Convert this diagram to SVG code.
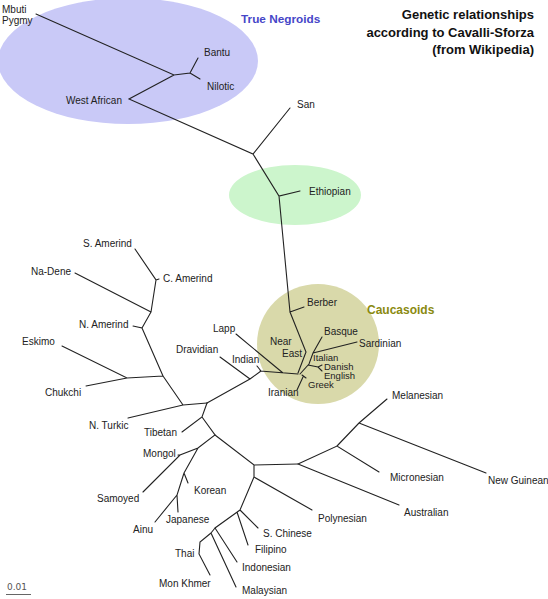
<svg xmlns="http://www.w3.org/2000/svg" width="548" height="599" viewBox="0 0 548 599">
<style>
.t{font-family:"Liberation Sans",Arial,sans-serif;font-size:10px;fill:#222}
.s{font-size:9.5px}
.b{font-family:"Liberation Sans",Arial,sans-serif;font-weight:bold}
.e{fill:none;stroke:#222;stroke-width:1.1;stroke-linecap:round}
</style>
<rect width="548" height="599" fill="#fff"/>
<g id="region-negroids"><ellipse cx="128" cy="61" rx="130" ry="63" fill="#c9c9f7"/></g>
<g id="region-ethiopian"><ellipse cx="295" cy="195" rx="66" ry="30" fill="#ccf5cc"/></g>
<g id="region-caucasoids"><ellipse cx="318" cy="344" rx="61" ry="60" fill="#d9d9aa"/></g>
<g id="connectors" class="e">
<path d="M36,14L174,75L190,73L198,58M190,73L200,79M174,75L129,99L253,154L290,108M253,154L279,196L300,191M279,196L290,312L304,307M290,312L306,352L298,373"/>
<path d="M260,371L298,374M236,334L283,373M257,366L261,371M250,379L261,371M220,357L250,379M250,379L207,403"/>
<path d="M300,374L309,364L313,353L322,337M313,353L357,342M308,365L318,367L322,371M318,367L322,365M302,375L306,378M303,377L297,390"/>
<path d="M207,403L183,405L128,418M183,405L163,376L127,378L62,346M127,378L86,386M163,376L142,328L133,326M142,328L151,312L75,273M151,312L156,280L135,249M156,280L159,279"/>
<path d="M207,403L202,417L182,432M202,417L215,435L198,448L180,455L143,492M180,455L178,455M198,448L184,473L188,483M184,473L177,495L178,512M177,495L155,522"/>
<path d="M215,435L254,465L298,464M254,465L254,477L312,510M254,477L240,510L258,528M237,512L248,545M240,510L215,528L237,562M215,528L211,533L236,587M211,533L200,542L199,554L210,575"/>
<path d="M298,464L337,446L379,472M298,464L399,505M337,446L359,423L387,399M359,423L486,473"/>
</g>
<g id="title" class="b" font-size="13" fill="#111" text-anchor="end">
<text x="534" y="19">Genetic relationships</text>
<text x="534" y="36.5">according to Cavalli-Sforza</text>
<text x="534" y="54">(from Wikipedia)</text>
</g>
<g id="label-true-negroids"><text class="b" x="241" y="23" font-size="11.8" fill="#4646c8">True Negroids</text></g>
<g id="label-caucasoids"><text class="b" x="367" y="314" font-size="12" fill="#8a8a10">Caucasoids</text></g>
<g id="node-mbuti"><text class="t" x="2" y="13">Mbuti</text><text class="t" x="2" y="24">Pygmy</text></g>
<g id="node-bantu"><text class="t" x="204" y="56">Bantu</text></g>
<g id="node-nilotic"><text class="t" x="207" y="90">Nilotic</text></g>
<g id="node-west-african"><text class="t" x="66" y="104">West African</text></g>
<g id="node-san"><text class="t" x="297" y="108">San</text></g>
<g id="node-ethiopian"><text class="t" x="309" y="195">Ethiopian</text></g>
<g id="node-berber"><text class="t" x="307" y="306">Berber</text></g>
<g id="node-lapp"><text class="t" x="213" y="332">Lapp</text></g>
<g id="node-dravidian"><text class="t" x="176" y="353">Dravidian</text></g>
<g id="node-indian"><text class="t" x="232" y="363">Indian</text></g>
<g id="node-near-east"><text class="t" x="270" y="345">Near</text><text class="t" x="282" y="357">East</text></g>
<g id="node-basque"><text class="t" x="324" y="335">Basque</text></g>
<g id="node-sardinian"><text class="t" x="359" y="347">Sardinian</text></g>
<g id="node-italian"><text class="t s" x="313" y="361">Italian</text></g>
<g id="node-danish"><text class="t s" x="324" y="369.5">Danish</text></g>
<g id="node-english"><text class="t s" x="324" y="379">English</text></g>
<g id="node-greek"><text class="t s" x="308" y="387.5">Greek</text></g>
<g id="node-iranian"><text class="t" x="268" y="396">Iranian</text></g>
<g id="node-s-amerind"><text class="t" x="83" y="247">S. Amerind</text></g>
<g id="node-c-amerind"><text class="t" x="163" y="282">C. Amerind</text></g>
<g id="node-na-dene"><text class="t" x="31" y="275">Na-Dene</text></g>
<g id="node-n-amerind"><text class="t" x="79" y="328">N. Amerind</text></g>
<g id="node-eskimo"><text class="t" x="22" y="345">Eskimo</text></g>
<g id="node-chukchi"><text class="t" x="45" y="396">Chukchi</text></g>
<g id="node-n-turkic"><text class="t" x="89" y="429">N. Turkic</text></g>
<g id="node-tibetan"><text class="t" x="144" y="436">Tibetan</text></g>
<g id="node-mongol"><text class="t" x="143" y="457">Mongol</text></g>
<g id="node-samoyed"><text class="t" x="97" y="502">Samoyed</text></g>
<g id="node-korean"><text class="t" x="194" y="494">Korean</text></g>
<g id="node-japanese"><text class="t" x="166" y="523">Japanese</text></g>
<g id="node-ainu"><text class="t" x="133" y="533">Ainu</text></g>
<g id="node-melanesian"><text class="t" x="392" y="399">Melanesian</text></g>
<g id="node-micronesian"><text class="t" x="390" y="481">Micronesian</text></g>
<g id="node-new-guinean"><text class="t" x="488" y="484">New Guinean</text></g>
<g id="node-australian"><text class="t" x="404" y="516">Australian</text></g>
<g id="node-polynesian"><text class="t" x="318" y="522">Polynesian</text></g>
<g id="node-s-chinese"><text class="t" x="263" y="537">S. Chinese</text></g>
<g id="node-filipino"><text class="t" x="255" y="553">Filipino</text></g>
<g id="node-indonesian"><text class="t" x="242" y="571">Indonesian</text></g>
<g id="node-malaysian"><text class="t" x="242" y="594">Malaysian</text></g>
<g id="node-thai"><text class="t" x="175" y="557">Thai</text></g>
<g id="node-mon-khmer"><text class="t" x="159" y="587">Mon Khmer</text></g>
<g id="scale-bar"><text x="7" y="590" font-family="'DejaVu Sans',sans-serif" font-size="9" fill="#555">0.01</text><line x1="6" y1="594.5" x2="31" y2="594.5" stroke="#666" stroke-width="1"/></g>
</svg>
